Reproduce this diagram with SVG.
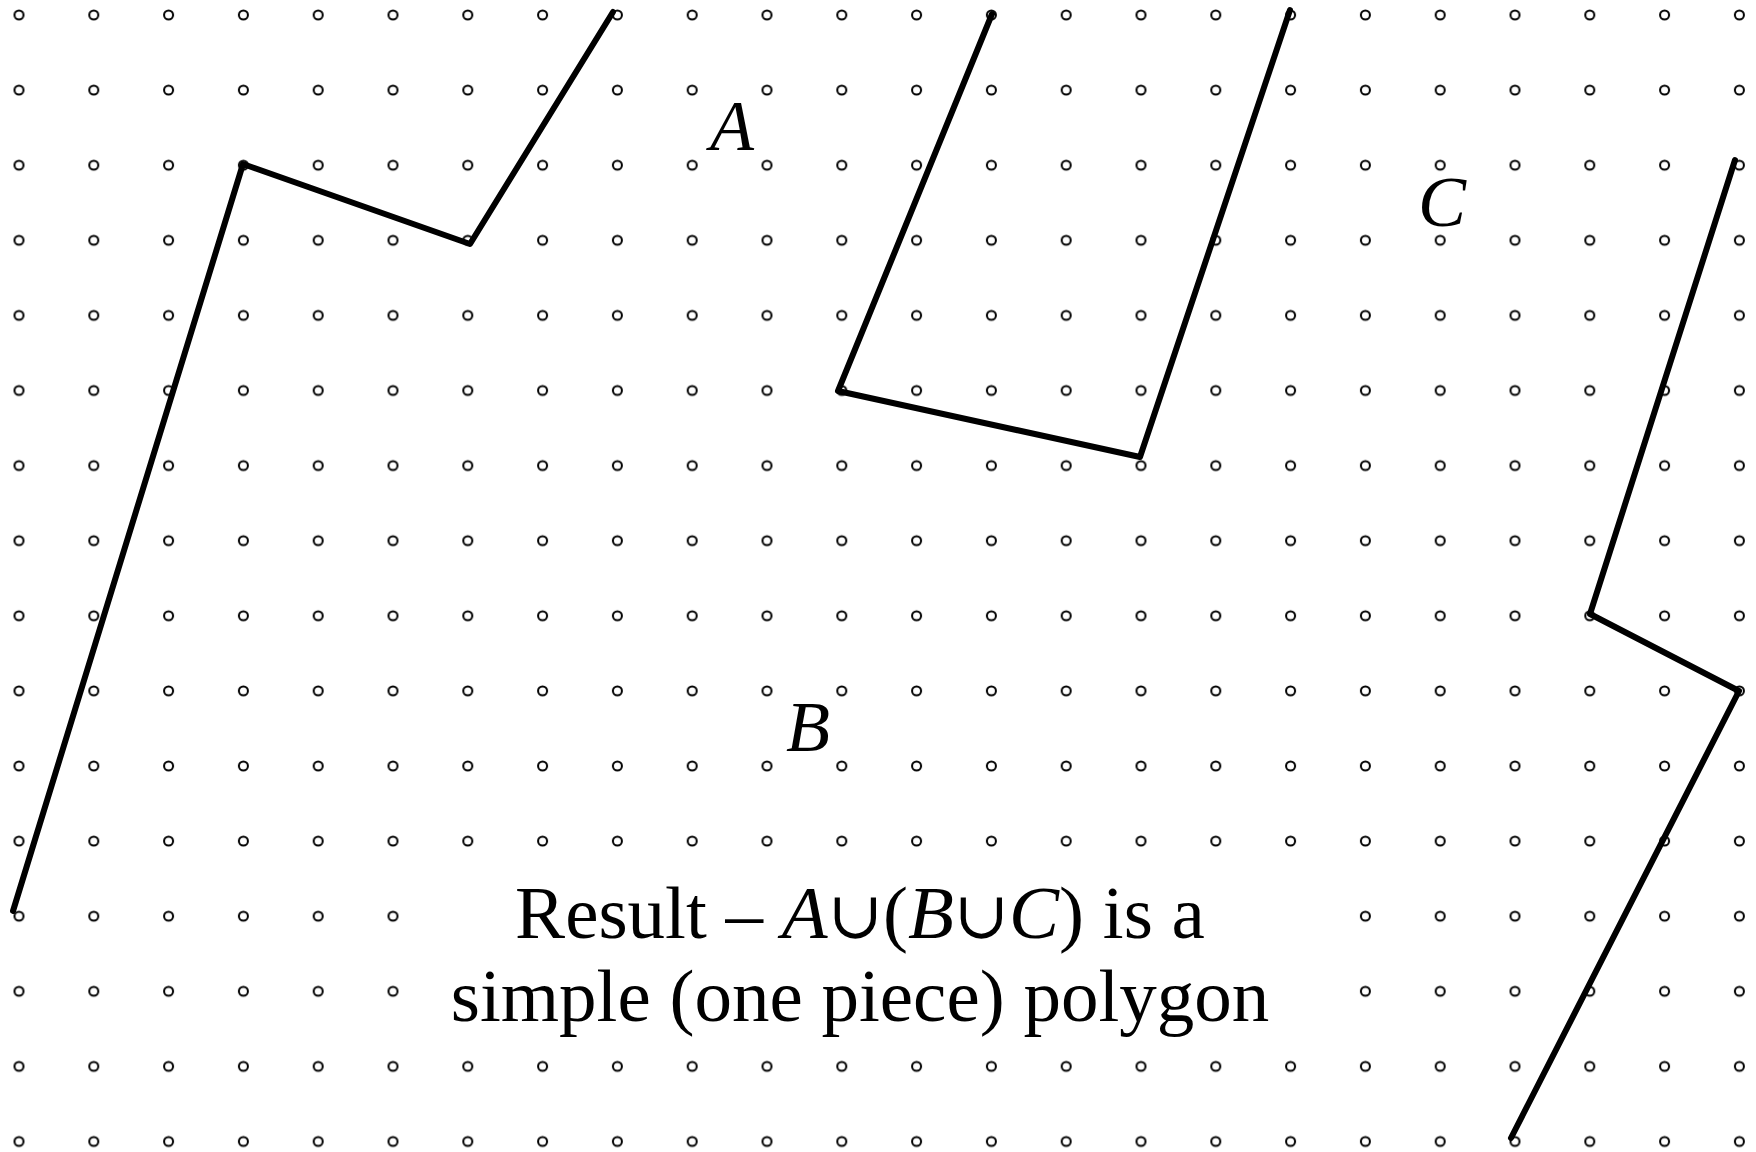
<svg xmlns="http://www.w3.org/2000/svg" width="1756" height="1152" viewBox="0 0 1756 1152">
<style>
.dot{fill:none;stroke:#000;stroke-width:2}
.edge{fill:none;stroke:#000;stroke-width:6;stroke-linejoin:round;stroke-linecap:round}
.lbl{font-family:"Liberation Serif","Times New Roman",serif;font-style:italic;font-size:72px;fill:#000}
.cap{font-family:"Liberation Serif","Times New Roman",serif;font-size:75px;fill:#000}
.cup{font-family:"DejaVu Serif",serif;font-size:66px}
</style>
<defs>
<pattern id="grid" patternUnits="userSpaceOnUse" x="-18.4" y="-22.55" width="74.8" height="75.1">
<circle cx="37.4" cy="37.55" r="4.5" class="dot"/>
</pattern>
</defs>
<rect width="1756" height="1152" fill="#fff"/>
<g id="dot-grid">
<rect width="1756" height="1152" fill="url(#grid)"/>
<rect id="text-mask" x="432" y="898" width="872" height="112" fill="#fff"/>
</g>
<g id="connectors">
<polyline id="boundary-A" class="edge" points="13,911 243,164 470,244 613,12"/>
<polyline id="boundary-B" class="edge" points="992,14 838,391 1140,457 1290,10"/>
<polyline id="boundary-C" class="edge" points="1735,160 1590,614 1739,691 1511,1138"/>
</g>
<g id="label-A"><text class="lbl" x="732" y="150" text-anchor="middle">A</text></g>
<g id="label-B"><text class="lbl" x="808" y="751" text-anchor="middle">B</text></g>
<g id="label-C"><text class="lbl" x="1442" y="226" text-anchor="middle">C</text></g>
<g id="caption">
<text class="cap" x="860" y="938" text-anchor="middle">Result – <tspan font-style="italic">A</tspan><tspan class="cup">∪</tspan>(<tspan font-style="italic">B</tspan><tspan class="cup">∪</tspan><tspan font-style="italic">C</tspan>) is a</text>
<text class="cap" x="860" y="1021" text-anchor="middle">simple (one piece) polygon</text>
</g>
</svg>
